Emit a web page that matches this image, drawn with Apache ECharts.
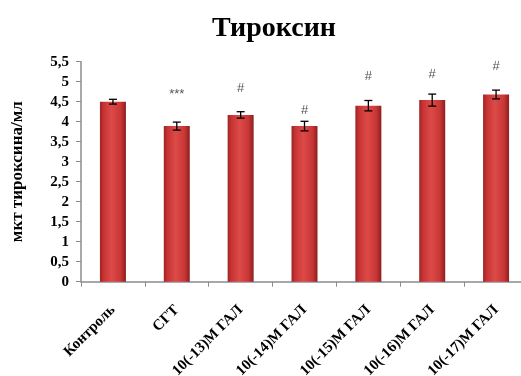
<!DOCTYPE html>
<html>
<head>
<meta charset="utf-8">
<script src="https://cdn.jsdelivr.net/npm/echarts@6/dist/echarts.min.js"></script>
<style>
  html, body { margin: 0; padding: 0; background: #fff; }
  #chart { width: 521px; height: 376px; }
</style>
</head>
<body>
<div id="chart"></div>
<script>
// Thyroxine level per group, with standard error and significance marks
const categories = ['Контроль', 'СГТ', '10(-13)М ГАЛ', '10(-14)М ГАЛ', '10(-15)М ГАЛ', '10(-16)М ГАЛ', '10(-17)М ГАЛ'];
const values = [4.50, 3.89, 4.17, 3.89, 4.40, 4.54, 4.68];
const errors = [0.06, 0.10, 0.08, 0.12, 0.13, 0.15, 0.11];
const marks = ['', '***', '#', '#', '#', '#', '#'];
const markLevels = [null, 4.69, 4.82, 4.29, 5.12, 5.17, 5.37];
const yTicks = ['0', '0,5', '1', '1,5', '2', '2,5', '3', '3,5', '4', '4,5', '5', '5,5'];

const serif = '"Liberation Serif", "DejaVu Serif", serif';
const chart = echarts.init(document.getElementById('chart'), null, { renderer: 'canvas' });

const barFill = new echarts.graphic.LinearGradient(0, 0, 1, 0, [
  { offset: 0, color: '#9c2424' },
  { offset: 0.15, color: '#c83434' },
  { offset: 0.45, color: '#dc4a48' },
  { offset: 0.8, color: '#c93636' },
  { offset: 1, color: '#8e1e1e' }
]);

chart.setOption({
  animation: false,
  title: {
    text: 'Тироксин',
    left: 269, top: 10, textAlign: 'center',
    textStyle: { fontFamily: serif, fontWeight: 'bold', fontSize: 28, color: '#000' }
  },
  grid: { left: 81, right: -7, top: 61.7, bottom: 94.3, containLabel: false, outerBoundsMode: 'none' },
  xAxis: {
    type: 'category',
    data: categories,
    axisLine: { lineStyle: { color: '#8c8c8c', width: 1.5 } },
    axisTick: { show: true, length: 5, lineStyle: { color: '#8c8c8c' } },
    axisLabel: {
      rotate: 45, margin: 26, interval: 0,
      fontFamily: serif, fontWeight: 'bold', fontSize: 15, color: '#000'
    }
  },
  yAxis: {
    type: 'value',
    min: 0, max: 5.5, interval: 0.5,
    name: 'мкт тироксина/мл',
    nameLocation: 'middle', nameGap: 55, nameRotate: 90,
    nameTextStyle: { fontFamily: serif, fontWeight: 'bold', fontSize: 17, color: '#000' },
    axisLine: { show: true, lineStyle: { color: '#8c8c8c', width: 1.5 } },
    axisTick: { show: true, length: 5, lineStyle: { color: '#8c8c8c' } },
    splitLine: { show: false },
    axisLabel: {
      margin: 12,
      fontFamily: serif, fontWeight: 'bold', fontSize: 15, color: '#000',
      formatter: (v) => yTicks[Math.round(v * 2)]
    }
  },
  series: [
    {
      type: 'bar',
      data: values,
      barWidth: 26,
      itemStyle: { color: barFill },
      z: 2
    },
    {
      // error bars with caps
      type: 'custom',
      data: values.map((v, i) => [i, v, errors[i]]),
      z: 4,
      renderItem: (params, api) => {
        const x = api.coord([api.value(0), 0])[0];
        const hi = api.coord([api.value(0), api.value(1) + api.value(2)])[1];
        const lo = api.coord([api.value(0), api.value(1) - api.value(2)])[1];
        const cap = 4;
        const style = { stroke: '#000', lineWidth: 1.3 };
        return {
          type: 'group',
          children: [
            { type: 'line', shape: { x1: x, y1: hi, x2: x, y2: lo }, style },
            { type: 'line', shape: { x1: x - cap, y1: hi, x2: x + cap, y2: hi }, style },
            { type: 'line', shape: { x1: x - cap, y1: lo, x2: x + cap, y2: lo }, style }
          ]
        };
      }
    },
    {
      // significance marks
      type: 'custom',
      data: markLevels.map((m, i) => [i, m, marks[i]]).filter(d => d[1] !== null),
      z: 5,
      renderItem: (params, api) => {
        const p = api.coord([api.value(0), api.value(1)]);
        return {
          type: 'text',
          style: {
            x: p[0], y: p[1], text: marks[api.value(0)],
            align: 'center', verticalAlign: 'middle',
            fontFamily: '"Liberation Sans", Arial, sans-serif', fontSize: 13, fill: '#555'
          }
        };
      }
    }
  ]
});
</script>
</body>
</html>
